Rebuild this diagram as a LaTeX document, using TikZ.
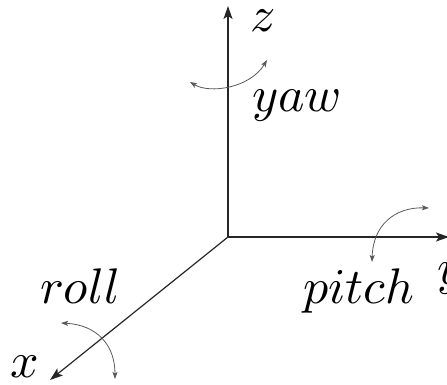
\documentclass[tikz,border=0pt]{standalone}
\usetikzlibrary{arrows.meta}
\begin{document}
\begin{tikzpicture}[x=1pt,y=-1pt,
  axis/.style={line width=1.2pt,black!85,-{Stealth[length=13pt,width=9pt,inset=3pt]}},
  rot/.style={line width=0.8pt,black!65,{Stealth[length=7pt,width=5pt,inset=1.5pt]}-{Stealth[length=7pt,width=5pt,inset=1.5pt]}},
  lbl/.style={scale=5,inner sep=0pt,anchor=base west}]
\useasboundingbox (0,0) rectangle (447,385);
\coordinate (O) at (228,237);
\coordinate (Z) at (228,6);
\coordinate (Y) at (449,237);
\coordinate (X) at (50,380);
\draw[axis] (O) -- (Z);
\draw[axis] (O) -- (Y);
\draw[axis] (O) -- (X);
% rotation arcs
\coordinate (ya1) at (190,82);
\coordinate (ya2) at (267,60);
\draw[rot] (ya1) .. controls (210,94) and (250,88) .. (ya2);
\coordinate (pa1) at (372,262);
\coordinate (pa2) at (429,208);
\draw[rot] (pa1) .. controls (373,225) and (395,207) .. (pa2);
\coordinate (ra1) at (61,323);
\coordinate (ra2) at (115,379);
\draw[rot] (ra1) .. controls (97,325) and (115,345) .. (ra2);
% labels
\node[lbl] (zl) at (249,32) {$z$};
\node[lbl] (yawl) at (251,112) {$yaw$};
\node[lbl] (pitchl) at (302,303) {$pitch$};
\node[lbl] (yl) at (436,284) {$y$};
\node[lbl] (rolll) at (39,303) {$roll$};
\node[lbl] (xl) at (9,377) {$x$};
\end{tikzpicture}
\end{document}
